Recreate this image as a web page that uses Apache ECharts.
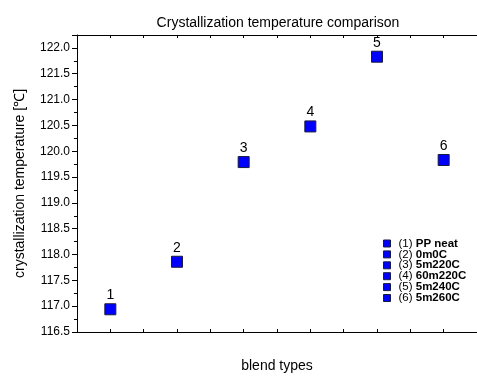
<!DOCTYPE html>
<html><head><meta charset="utf-8">
<script src="https://cdn.jsdelivr.net/npm/echarts@6/dist/echarts.min.js"></script>
<style>html,body{margin:0;padding:0;background:#fff}#c{width:477px;height:378px}</style>
</head><body><div id="c"></div>
<script>
const blendIds = ["1","2","3","4","5","6"];
const blendX = [1,2,3,4,5,6];
const blendTemps = [116.94, 117.86, 119.79, 120.48, 121.83, 119.83];
const legendNums = ["(1)","(2)","(3)","(4)","(5)","(6)"];
const legendNames = ["PP neat","0m0C","5m220C","60m220C","5m240C","5m260C"];
const yTicksMin = 116.5, yTicksMax = 122.25, yStep = 0.5;

const chart = echarts.init(document.getElementById('c'), null, {renderer:'canvas'});
const ff = 'Liberation Sans, Arial, sans-serif';
const series = blendIds.map((id,i)=>({
  type:'scatter',
  name: legendNums[i] + ' ' + legendNames[i],
  symbol:'rect', symbolSize:11,
  itemStyle:{color:'#0000ff', borderColor:'#1a1a40', borderWidth:1, opacity:1},
  label:{show:true, position:'top', distance:1, formatter:id, color:'#000', fontSize:14, fontFamily:ff},
  data:[[blendX[i], blendTemps[i]]]
}));
const axisBase = {
  type:'value', min:0.5, max:6.5, interval:0.5,
  axisLine:{show:true, onZero:false, lineStyle:{color:'#000', width:1}},
  axisTick:{show:true, inside:true, length:3, lineStyle:{color:'#000'}},
  axisLabel:{show:false}, splitLine:{show:false}
};
chart.setOption({
  backgroundColor:'#fff',
  animation:false,
  title:{text:'Crystallization temperature comparison', left:273, top:11, textAlign:'center',
    textStyle:{fontSize:14, fontWeight:'normal', color:'#000', fontFamily:ff}},
  grid:{left:77, right:-2, top:35, bottom:42, containLabel:false},
  legend:{
    orient:'vertical', left:378, top:232.5, itemWidth:7, itemHeight:7, itemGap:-1.1,
    icon:'rect',
    itemStyle:{color:'#0000ff', borderColor:'#1a1a40', borderWidth:1},
    textStyle:{fontSize:11.5, lineHeight:10, color:'#000', fontFamily:ff, padding:[0,0,0,3],
      rich:{n:{fontSize:11.5, lineHeight:10, fontFamily:ff, color:'#000'}, b:{fontSize:11.5, lineHeight:10, fontWeight:'bold', fontFamily:ff, color:'#000'}}},
    formatter:function(name){const i=name.indexOf(' ');return '{n|'+name.slice(0,i)+'} {b|'+name.slice(i+1)+'}';},
    data: series.map(s=>s.name)
  },
  xAxis:[
    Object.assign({}, axisBase, {position:'bottom', name:'blend types', nameLocation:'middle', nameGap:27,
      nameTextStyle:{fontSize:14, color:'#000', fontFamily:ff}}),
    Object.assign({}, axisBase, {position:'top'})
  ],
  yAxis:{
    type:'value', min:yTicksMin, max:yTicksMax, interval:yStep,
    name:'crystallization temperature [℃]', nameLocation:'middle', nameGap:50,
    nameTextStyle:{fontSize:14, color:'#000', fontFamily:ff},
    axisLine:{show:true, lineStyle:{color:'#000', width:1}},
    axisTick:{show:true, inside:false, length:5, lineStyle:{color:'#000'}},
    minorTick:{show:true, splitNumber:2, length:3, lineStyle:{color:'#000'}},
    axisLabel:{color:'#000', fontSize:12, fontFamily:ff, margin:7, showMaxLabel:false,
      formatter:v=>v.toFixed(1)},
    splitLine:{show:false}
  },
  series: series
});
</script></body></html>
